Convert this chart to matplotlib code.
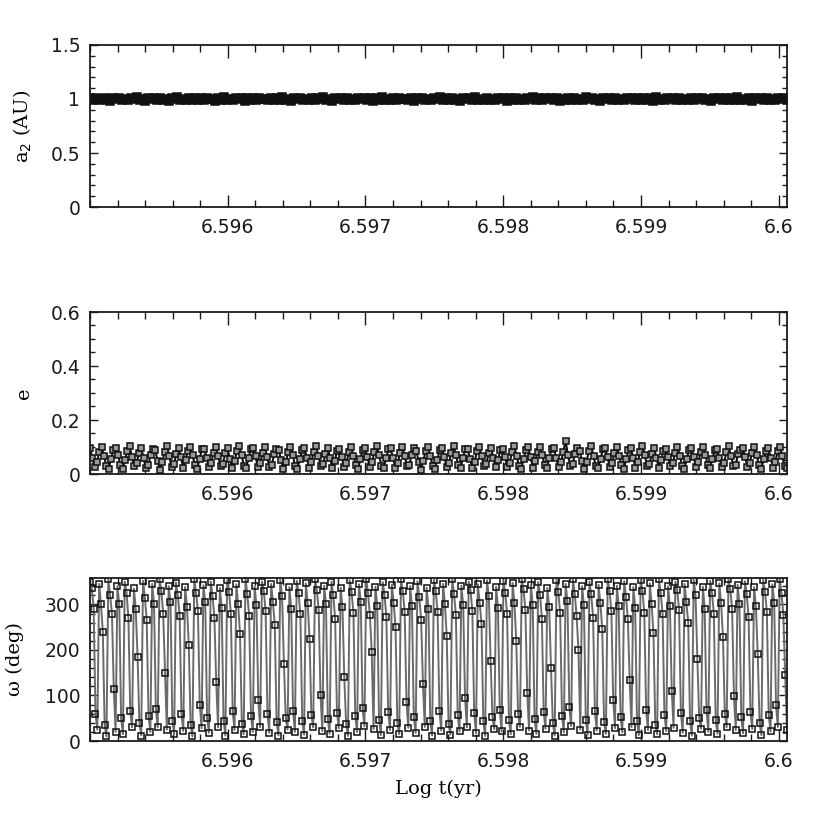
import numpy as np
import matplotlib
matplotlib.use('Agg')
import matplotlib.pyplot as plt
from matplotlib.ticker import MultipleLocator

# Time window of the output (log t, yr)
t_start, t_end = 6.595, 6.60006

# Semi-major axis of planet 2 (AU)
a_2 = [
    1.005, 0.992, 1.010, 0.988, 1.002, 1.013, 0.995, 0.986, 1.008, 0.998,
    1.012, 0.990, 1.003, 0.987, 1.009, 0.996, 1.014, 0.991, 1.001, 0.985,
    1.011, 0.997, 1.006, 0.989, 1.013, 0.994, 1.004, 0.986, 1.010, 0.999,
    1.015, 0.992, 1.002, 0.988, 1.008, 0.995, 1.012, 0.990, 1.006, 0.987,
    1.011, 0.998, 1.003, 0.985, 1.009, 0.993, 1.014, 0.991, 1.000, 0.989,
    1.012, 0.996, 1.007, 0.986, 1.010, 0.994, 1.005, 0.988, 1.013, 0.997,
    1.002, 0.990, 1.011, 0.987, 1.008, 0.995, 1.014, 0.992, 1.004, 0.986,
    1.009, 0.999, 1.012, 0.989, 1.001, 0.993, 1.010, 0.988, 1.006, 0.996,
    1.015, 0.991, 1.003, 0.985, 1.011, 0.997, 1.007, 0.990, 1.013, 0.994,
    1.002, 0.987, 1.009, 0.998, 1.012, 0.992, 1.005, 0.986, 1.010, 0.995,
    1.014, 0.989, 1.001, 0.993, 1.008, 0.988, 1.012, 0.997, 1.004, 0.990,
    1.011, 0.986, 1.007, 0.996, 1.013, 0.991, 1.003, 0.987, 1.009, 0.999,
    1.015, 0.994, 1.006, 0.988, 1.010, 0.992, 1.002, 0.985, 1.012, 0.997,
    1.008, 0.990, 1.014, 0.995, 1.004, 0.987, 1.011, 0.993, 1.000, 0.989,
    1.013, 0.998, 1.006, 0.986, 1.009, 0.994, 1.012, 0.991, 1.003, 0.988,
    1.010, 0.996, 1.015, 0.990, 1.005, 0.987, 1.011, 0.997, 1.007, 0.992,
    1.013, 0.985, 1.002, 0.995, 1.009, 0.989, 1.012, 0.993, 1.004, 0.988,
    1.014, 0.998, 1.008, 0.991, 1.001, 0.986, 1.010, 0.996, 1.006, 0.990,
    1.012, 0.994, 1.003, 0.987, 1.011, 0.999, 1.007, 0.992, 1.013, 0.989,
    1.005, 0.995, 1.009, 0.986, 1.014, 0.993, 1.002, 0.990, 1.010, 0.997,
    1.008, 0.988, 1.012, 0.994, 1.004, 0.991, 1.011, 0.987, 1.006, 0.996,
    1.013, 0.990, 1.001, 0.985, 1.009, 0.998, 1.012, 0.992, 1.005, 0.989,
    1.010, 0.995, 1.014, 0.988, 1.003, 0.993, 1.008, 0.986, 1.011, 0.997,
    1.006, 0.991, 1.013, 0.994, 1.002, 0.987, 1.009, 0.996, 1.012, 0.990,
]

# Eccentricity
ecc = [
    0.095, 0.060, 0.025, 0.045, 0.082, 0.100, 0.068, 0.030, 0.018, 0.055,
    0.090, 0.098, 0.072, 0.035, 0.020, 0.050, 0.085, 0.102, 0.064, 0.028,
    0.040, 0.078, 0.096, 0.058, 0.022, 0.032, 0.070, 0.093, 0.088, 0.048,
    0.016, 0.044, 0.080, 0.104, 0.066, 0.026, 0.036, 0.074, 0.097, 0.062,
    0.024, 0.052, 0.087, 0.099, 0.070, 0.033, 0.019, 0.057, 0.092, 0.094,
    0.061, 0.027, 0.042, 0.079, 0.101, 0.067, 0.029, 0.038, 0.076, 0.095,
    0.056, 0.021, 0.047, 0.084, 0.105, 0.071, 0.031, 0.023, 0.059, 0.091,
    0.097, 0.065, 0.026, 0.039, 0.077, 0.099, 0.063, 0.025, 0.034, 0.073,
    0.094, 0.089, 0.050, 0.017, 0.043, 0.081, 0.100, 0.069, 0.030, 0.020,
    0.054, 0.088, 0.096, 0.060, 0.024, 0.046, 0.083, 0.102, 0.066, 0.028,
    0.037, 0.075, 0.098, 0.058, 0.022, 0.049, 0.086, 0.093, 0.062, 0.027,
    0.041, 0.080, 0.101, 0.068, 0.032, 0.018, 0.056, 0.090, 0.097, 0.064,
    0.025, 0.044, 0.082, 0.104, 0.070, 0.031, 0.021, 0.058, 0.092, 0.095,
    0.059, 0.023, 0.039, 0.078, 0.099, 0.065, 0.029, 0.035, 0.072, 0.096,
    0.085, 0.046, 0.016, 0.048, 0.087, 0.100, 0.067, 0.030, 0.020, 0.053,
    0.089, 0.098, 0.063, 0.026, 0.042, 0.079, 0.103, 0.069, 0.033, 0.024,
    0.060, 0.093, 0.091, 0.057, 0.022, 0.045, 0.084, 0.101, 0.066, 0.028,
    0.038, 0.076, 0.097, 0.061, 0.025, 0.051, 0.088, 0.094, 0.064, 0.027,
    0.040, 0.081, 0.102, 0.068, 0.031, 0.019, 0.055, 0.090, 0.099, 0.062,
    0.024, 0.047, 0.083, 0.100, 0.071, 0.034, 0.021, 0.058, 0.094, 0.096,
    0.060, 0.026, 0.043, 0.080, 0.124, 0.072, 0.030, 0.036, 0.074, 0.098,
    0.087, 0.049, 0.017, 0.046, 0.085, 0.103, 0.067, 0.029, 0.022, 0.056,
    0.091, 0.097, 0.063, 0.025, 0.041, 0.078, 0.100, 0.066, 0.032, 0.020,
    0.054, 0.089, 0.095, 0.061, 0.024, 0.045, 0.082, 0.105, 0.069, 0.030,
    0.037, 0.075, 0.096, 0.059, 0.023, 0.050, 0.086, 0.092, 0.064, 0.028,
    0.039, 0.079, 0.101, 0.068, 0.031, 0.018, 0.055, 0.090, 0.098, 0.062,
    0.026, 0.044, 0.083, 0.099, 0.070, 0.033, 0.021, 0.057, 0.088, 0.094,
    0.060, 0.025, 0.042, 0.080, 0.102, 0.066, 0.029, 0.035, 0.073, 0.090,
    0.097, 0.064, 0.027, 0.041, 0.077, 0.100, 0.069, 0.032, 0.019, 0.054,
    0.086, 0.096, 0.061, 0.024, 0.046, 0.084, 0.101, 0.067, 0.030, 0.022,
]

# Argument of pericentre (deg)
omega = [
    350, 335, 290, 60, 25,   345, 300, 240, 35, 10,   355, 320, 280, 115, 20,
    340, 300, 50, 15,        350, 325, 270, 65, 30,   335, 290, 185, 40, 12,
    352, 315, 265, 55, 20,   345, 300, 70, 30,        355, 330, 280, 150, 25,
    340, 305, 45, 15,        348, 320, 275, 60, 22,   338, 295, 210, 35, 10,
    355, 325, 285, 80, 28,   342, 305, 50, 18,        350, 318, 270, 130, 30,
    336, 292, 45, 12,        353, 328, 280, 65, 24,   344, 300, 235, 38, 15,
    356, 322, 275, 55, 20,   340, 298, 90, 30,        350, 330, 285, 60, 18,
    345, 305, 255, 42, 12,   354, 318, 170, 50, 25,    338, 290, 65, 20,
    352, 326, 278, 45, 14,   346, 302, 225, 58, 30,   355, 332, 288, 100, 22,
    341, 300, 48, 16,        350, 320, 268, 62, 28,   337, 294, 140, 38, 11,
    353, 327, 282, 55, 20,   344, 306, 72, 32,        356, 324, 276, 195, 26,
    339, 297, 46, 13,        349, 321, 272, 64, 24,   343, 303, 250, 40, 15,
    355, 329, 284, 85, 29,   340, 296, 52, 18,        351, 316, 266, 125, 31,
    337, 291, 44, 12,        354, 330, 283, 66, 23,   345, 301, 230, 37, 14,
    356, 323, 277, 57, 21,   341, 299, 95, 30,        350, 331, 286, 61, 17,
    344, 304, 258, 43, 11,   353, 319, 175, 52, 26,    339, 292, 67, 21,
    352, 325, 279, 46, 15,   347, 303, 220, 59, 31,   355, 333, 287, 105, 23,
    342, 299, 49, 16,        349, 321, 269, 63, 27,   336, 295, 160, 39, 12,
    354, 328, 281, 56, 19,   345, 307, 75, 33,        356, 323, 274, 200, 25,
    340, 298, 47, 14,        350, 322, 271, 65, 23,   343, 302, 245, 41, 16,
    355, 330, 285, 90, 28,   341, 297, 53, 19,        351, 317, 267, 135, 30,
    338, 293, 45, 13,        353, 329, 282, 67, 24,   346, 300, 238, 36, 15,
    356, 324, 279, 58, 22,   340, 296, 110, 29,       350, 332, 287, 62, 18,
    345, 305, 260, 44, 12,   354, 320, 180, 51, 27,    339, 291, 68, 20,
    352, 326, 280, 47, 16,   346, 302, 228, 60, 30,   355, 334, 289, 98, 24,
    343, 300, 52, 17,        351, 323, 273, 64, 26,   338, 296, 190, 40, 13,
    354, 327, 283, 57, 21,   344, 304, 78, 31,        356, 325, 277, 145, 25,
]

# Tick positions and labels
x_ticks = [6.596, 6.597, 6.598, 6.599, 6.6]
x_tick_labels = ['6.596', '6.597', '6.598', '6.599', '6.6']
a_ticks, a_tick_labels = [0, 0.5, 1, 1.5], ['0', '0.5', '1', '1.5']
e_ticks, e_tick_labels = [0, 0.2, 0.4, 0.6], ['0', '0.2', '0.4', '0.6']
w_ticks, w_tick_labels = [0, 100, 200, 300], ['0', '100', '200', '300']

# Fonts
label_font = {'family': 'DejaVu Serif', 'size': 14}
tick_size = 13.5


def style_axis(ax, yticks, ylabels, ymax, ymin_step, ylabel, label_x):
    """
        Sets limits, ticks on all four sides and the y label of one panel
    """
    ax.set_xlim(t_start, t_end)
    ax.set_ylim(0, ymax)
    ax.set_xticks(x_ticks)
    ax.set_xticklabels(x_tick_labels)
    ax.set_yticks(yticks)
    ax.set_yticklabels(ylabels)
    ax.xaxis.set_minor_locator(MultipleLocator(0.0002))
    ax.yaxis.set_minor_locator(MultipleLocator(ymin_step))
    ax.tick_params(which='both', direction='in', top=True, right=True,
                   colors='#1a1a1a', labelsize=tick_size, width=1.0)
    ax.tick_params(axis='x', which='major', length=9, pad=8)
    ax.tick_params(axis='x', which='minor', length=5)
    ax.tick_params(axis='y', which='major', length=6, pad=7)
    ax.tick_params(axis='y', which='minor', length=3.5)
    for sp in ax.spines.values():
        sp.set_linewidth(1.3)
        sp.set_color('#1a1a1a')
    ax.set_ylabel(ylabel, fontdict=label_font)
    ax.yaxis.set_label_coords(label_x, 0.5)
    for lab in ax.get_xticklabels() + ax.get_yticklabels():
        lab.set_family('DejaVu Sans')


def draw_series(ax, values, line_color, line_width, face='none', size=4.8):
    """
        Draws one series as a line with square markers
    """
    x = np.linspace(t_start, t_end, len(values))
    ax.plot(x, values, color=line_color, linewidth=line_width, marker='s',
            markersize=size, markerfacecolor=face, markeredgecolor='#111111',
            markeredgewidth=1.1)


fig = plt.figure(figsize=(8.3, 8.3), dpi=100)

left, width = 90 / 830, 697 / 830
ax_a = fig.add_axes([left, 1 - 207 / 830, width, 162 / 830])
ax_e = fig.add_axes([left, 1 - 474 / 830, width, 162 / 830])
ax_w = fig.add_axes([left, 1 - 741 / 830, width, 163 / 830])

# Top panel: semi-major axis
draw_series(ax_a, a_2, '#111111', 1.5, face='#111111', size=5.2)
style_axis(ax_a, a_ticks, a_tick_labels, 1.5, 0.1, r'a$_2$ (AU)', -0.08)

# Middle panel: eccentricity (darker, denser band)
draw_series(ax_e, ecc, '#111111', 1.5, face='#9a9a9a', size=5.0)
style_axis(ax_e, e_ticks, e_tick_labels, 0.6, 0.05, 'e', -0.082)

# Bottom panel: argument of pericentre
draw_series(ax_w, omega, '#6a6a6a', 1.4)
style_axis(ax_w, w_ticks, w_tick_labels, 358, 20, 'ω (deg)', -0.095)
ax_w.set_xlabel('Log t(yr)', fontdict=label_font, labelpad=6)

fig.savefig('out.png', dpi=100, facecolor='white')
